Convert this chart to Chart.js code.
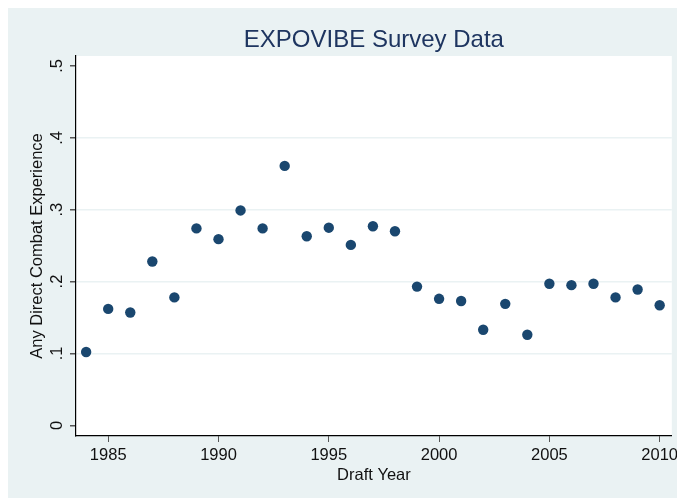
<!DOCTYPE html>
<html>
<head>
<meta charset="utf-8">
<title>EXPOVIBE Survey Data</title>
<script src="https://cdn.jsdelivr.net/npm/chart.js@4.4.0/dist/chart.umd.min.js"></script>
<style>
    html, body { margin: 0; padding: 0; background: #fff; }
    #wrap { width: 677px; height: 500px; }
</style>
</head>
<body>
<div id="wrap"><canvas id="surveyChart" width="677" height="500"></canvas></div>
<script>
// values
const draftYears = [1984, 1985, 1986, 1987, 1988, 1989, 1990, 1991, 1992, 1993, 1994, 1995, 1996, 1997,
    1998, 1999, 2000, 2001, 2002, 2003, 2004, 2005, 2006, 2007, 2008, 2009, 2010];
const combatShare = [0.102, 0.162, 0.157, 0.228, 0.178, 0.274, 0.259, 0.299, 0.274, 0.361, 0.263, 0.275, 0.251, 0.277,
    0.270, 0.193, 0.176, 0.173, 0.133, 0.169, 0.126, 0.197, 0.195, 0.197, 0.178, 0.189, 0.167];
const xTicks = [1985, 1990, 1995, 2000, 2005, 2010];
const yTicks = [0, 0.1, 0.2, 0.3, 0.4, 0.5];
const yTickLabels = ['0', '.1', '.2', '.3', '.4', '.5'];

const FONT = '"Liberation Sans", Arial, Helvetica, sans-serif';
const STATA_BG = '#EAF2F3';
const STATA_NAVY = '#1A476F';

// s2color style backdrop: grey outer region, white plot region
const backdrop = {
    id: 'backdrop',
    beforeDraw(chart) {
        const { ctx, chartArea } = chart;
        ctx.save();
        ctx.fillStyle = '#fff';
        ctx.fillRect(0, 0, chart.width, chart.height);
        ctx.fillStyle = STATA_BG;
        ctx.fillRect(8, 8, chart.width - 8, chart.height - 10);
        ctx.fillStyle = '#fff';
        ctx.fillRect(chartArea.left, chartArea.top, chartArea.right - chartArea.left, chartArea.bottom - chartArea.top);
        ctx.restore();
    }
};

// keep the tick labels from pushing the plot region in (2010 label overhangs in Stata too)
function noLabelPadding(scale) {
    scale.paddingLeft = 0;
    scale.paddingRight = 0;
    scale.paddingTop = 0;
    scale.paddingBottom = 0;
}

const points = draftYears.map((year, i) => ({ x: year, y: combatShare[i] }));

new Chart(document.getElementById('surveyChart').getContext('2d'), {
    type: 'scatter',
    data: {
        datasets: [{
            label: 'Any Direct Combat Experience',
            data: points,
            backgroundColor: STATA_NAVY,
            borderColor: STATA_NAVY,
            borderWidth: 0,
            pointRadius: 5.2,
            pointHoverRadius: 5.2
        }]
    },
    plugins: [backdrop],
    options: {
        responsive: false,
        animation: false,
        layout: {
            padding: { left: 8, top: 8, right: 4, bottom: 2 }
        },
        scales: {
            x: {
                type: 'linear',
                min: 1983.54,
                max: 2010.55,
                afterBuildTicks: scale => { scale.ticks = xTicks.map(v => ({ value: v })); },
                afterFit: scale => { scale.height = 62; noLabelPadding(scale); },
                grid: { drawOnChartArea: false, drawTicks: true, tickLength: 6, tickColor: '#555', tickWidth: 1 },
                border: { display: true, color: '#000', width: 1.2 },
                ticks: {
                    color: '#111',
                    font: { size: 16.5, family: FONT },
                    padding: 4,
                    maxRotation: 0,
                    minRotation: 0,
                    callback: value => String(value)
                },
                title: {
                    display: true,
                    text: 'Draft Year',
                    color: '#111',
                    font: { size: 16.5, family: FONT },
                    padding: { top: 0, bottom: 13 }
                }
            },
            y: {
                type: 'linear',
                min: -0.0149,
                max: 0.5139,
                afterBuildTicks: scale => { scale.ticks = yTicks.map(v => ({ value: v })); },
                afterFit: scale => { scale.width = 68; noLabelPadding(scale); },
                grid: {
                    drawOnChartArea: true,
                    drawTicks: true,
                    tickLength: 6,
                    tickColor: '#555',
                    lineWidth: 1.5,
                    // Stata only draws the inner grid lines
                    color: ctx => (ctx.tick && ctx.tick.value > 0.05 && ctx.tick.value < 0.45) ? STATA_BG : 'rgba(0,0,0,0)'
                },
                border: { display: true, color: '#000', width: 1.2 },
                ticks: {
                    color: '#111',
                    font: { size: 16.5, family: FONT },
                    padding: 6,
                    minRotation: 90,
                    maxRotation: 90,
                    crossAlign: 'center',
                    callback: value => yTickLabels[yTicks.indexOf(value)]
                },
                title: {
                    display: true,
                    text: 'Any Direct Combat Experience',
                    color: '#111',
                    font: { size: 16.5, family: FONT },
                    padding: { top: 20, bottom: 0 }
                }
            }
        },
        plugins: {
            legend: { display: false },
            tooltip: { enabled: false },
            title: {
                display: true,
                text: 'EXPOVIBE Survey Data',
                fullSize: false,
                color: '#1E3560',
                font: { size: 24, family: FONT, weight: 'normal' },
                padding: { top: 17.5, bottom: 1.7 }
            }
        }
    }
});
</script>
</body>
</html>
